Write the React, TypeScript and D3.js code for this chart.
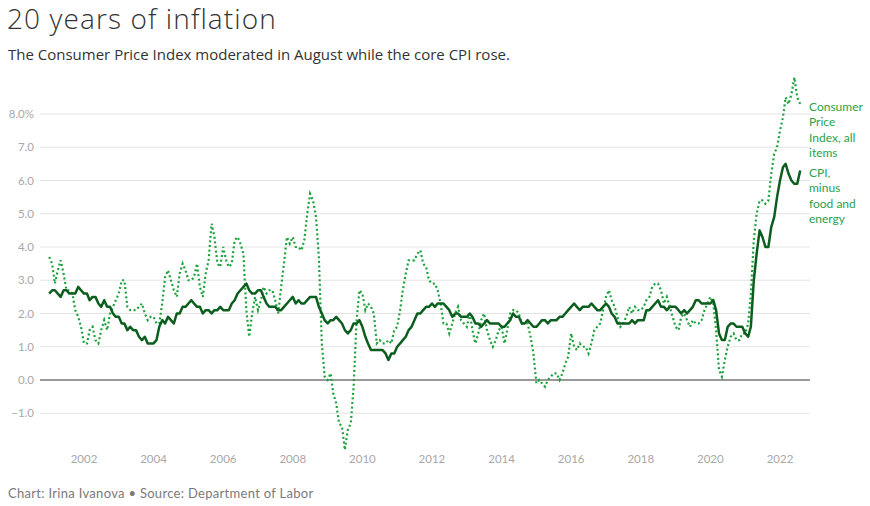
import React from "react";
import * as d3 from "d3";

const startYear = 2001;
const cpiAll: number[] = [
  3.7, 3.5, 2.9, 3.3, 3.6, 3.2, 2.7, 2.7, 2.6, 2.1, 1.9, 1.6,
  1.1, 1.1, 1.5, 1.6, 1.2, 1.1, 1.5, 1.8, 1.5, 2.0, 2.2, 2.4,
  2.6, 3.0, 3.0, 2.2, 2.1, 2.1, 2.1, 2.2, 2.3, 2.0, 1.8, 1.9,
  1.9, 1.7, 1.7, 2.3, 3.1, 3.3, 3.0, 2.7, 2.5, 3.2, 3.5, 3.3,
  3.0, 3.0, 3.1, 3.5, 2.8, 2.5, 3.2, 3.6, 4.7, 4.3, 3.5, 3.4,
  4.0, 3.6, 3.4, 3.5, 4.2, 4.3, 4.1, 3.8, 2.1, 1.3, 2.0, 2.5,
  2.1, 2.4, 2.8, 2.6, 2.7, 2.7, 2.4, 2.0, 2.8, 3.5, 4.3, 4.1,
  4.3, 4.0, 4.0, 3.9, 4.2, 5.0, 5.6, 5.4, 4.9, 3.7, 1.1, 0.1,
  0.0, 0.2, -0.4, -0.7, -1.3, -1.4, -2.1, -1.5, -1.3, -0.2, 1.8, 2.7,
  2.6, 2.1, 2.3, 2.2, 2.0, 1.1, 1.2, 1.1, 1.1, 1.2, 1.1, 1.5,
  1.6, 2.1, 2.7, 3.2, 3.6, 3.6, 3.6, 3.8, 3.9, 3.5, 3.4, 3.0,
  2.9, 2.9, 2.7, 2.3, 1.7, 1.7, 1.4, 1.7, 2.0, 2.2, 1.8, 1.7,
  1.6, 2.0, 1.5, 1.1, 1.4, 1.8, 2.0, 1.5, 1.2, 1.0, 1.2, 1.5,
  1.6, 1.1, 1.5, 2.0, 2.1, 2.1, 2.0, 1.7, 1.7, 1.7, 1.3, 0.8,
  -0.1, 0.0, -0.1, -0.2, 0.0, 0.1, 0.2, 0.2, 0.0, 0.2, 0.5, 0.7,
  1.4, 1.0, 0.9, 1.1, 1.0, 1.0, 0.8, 1.1, 1.5, 1.6, 1.7, 2.1,
  2.5, 2.7, 2.4, 2.2, 1.9, 1.6, 1.7, 1.9, 2.2, 2.0, 2.2, 2.1,
  2.1, 2.2, 2.4, 2.5, 2.8, 2.9, 2.9, 2.7, 2.3, 2.5, 2.2, 1.9,
  1.6, 1.5, 1.9, 2.0, 1.8, 1.6, 1.8, 1.7, 1.7, 1.8, 2.1, 2.3,
  2.5, 2.3, 1.5, 0.3, 0.1, 0.6, 1.0, 1.3, 1.4, 1.2, 1.2, 1.4,
  1.4, 1.7, 2.6, 4.2, 5.0, 5.4, 5.4, 5.3, 5.4, 6.2, 6.8, 7.0,
  7.5, 7.9, 8.5, 8.3, 8.6, 9.1, 8.5, 8.3,
];
const cpiCore: number[] = [
  2.6, 2.7, 2.7, 2.6, 2.5, 2.7, 2.7, 2.6, 2.6, 2.6, 2.8, 2.7,
  2.6, 2.6, 2.4, 2.5, 2.5, 2.3, 2.2, 2.4, 2.2, 2.2, 2.0, 1.9,
  1.9, 1.7, 1.7, 1.5, 1.6, 1.5, 1.5, 1.3, 1.2, 1.3, 1.1, 1.1,
  1.1, 1.2, 1.6, 1.8, 1.7, 1.9, 1.8, 1.7, 2.0, 2.0, 2.2, 2.2,
  2.3, 2.4, 2.3, 2.2, 2.2, 2.0, 2.1, 2.1, 2.0, 2.1, 2.1, 2.2,
  2.1, 2.1, 2.1, 2.3, 2.4, 2.6, 2.7, 2.8, 2.9, 2.7, 2.6, 2.6,
  2.7, 2.7, 2.5, 2.3, 2.2, 2.2, 2.2, 2.1, 2.1, 2.2, 2.3, 2.4,
  2.5, 2.3, 2.4, 2.3, 2.3, 2.4, 2.5, 2.5, 2.5, 2.2, 2.0, 1.8,
  1.7, 1.8, 1.8, 1.9, 1.8, 1.7, 1.5, 1.4, 1.5, 1.7, 1.7, 1.8,
  1.6, 1.3, 1.1, 0.9, 0.9, 0.9, 0.9, 0.9, 0.8, 0.6, 0.8, 0.8,
  1.0, 1.1, 1.2, 1.3, 1.5, 1.6, 1.8, 2.0, 2.0, 2.1, 2.2, 2.2,
  2.3, 2.2, 2.3, 2.3, 2.3, 2.2, 2.1, 1.9, 2.0, 2.0, 1.9, 1.9,
  1.9, 2.0, 1.9, 1.7, 1.7, 1.6, 1.7, 1.8, 1.7, 1.7, 1.7, 1.7,
  1.6, 1.6, 1.7, 1.8, 2.0, 1.9, 1.9, 1.7, 1.7, 1.8, 1.7, 1.6,
  1.6, 1.7, 1.8, 1.8, 1.7, 1.8, 1.8, 1.8, 1.9, 1.9, 2.0, 2.1,
  2.2, 2.3, 2.2, 2.1, 2.2, 2.2, 2.2, 2.3, 2.2, 2.1, 2.1, 2.2,
  2.3, 2.2, 2.0, 1.9, 1.7, 1.7, 1.7, 1.7, 1.7, 1.8, 1.7, 1.8,
  1.8, 1.8, 2.1, 2.1, 2.2, 2.3, 2.4, 2.2, 2.2, 2.1, 2.2, 2.2,
  2.2, 2.1, 2.0, 2.1, 2.0, 2.1, 2.2, 2.4, 2.4, 2.3, 2.3, 2.3,
  2.3, 2.4, 2.1, 1.4, 1.2, 1.2, 1.6, 1.7, 1.7, 1.6, 1.6, 1.6,
  1.4, 1.3, 1.6, 3.0, 3.8, 4.5, 4.3, 4.0, 4.0, 4.6, 4.9, 5.5,
  6.0, 6.4, 6.5, 6.2, 6.0, 5.9, 5.9, 6.3,
];
const yTicks: number[] = [-1, 0, 1, 2, 3, 4, 5, 6, 7, 8];
const xTickYears: number[] = [2002, 2004, 2006, 2008, 2010, 2012, 2014, 2016, 2018, 2020, 2022];
const allLabel: string[] = ["Consumer", "Price", "Index, all", "items"];
const coreLabel: string[] = ["CPI,", "minus", "food and", "energy"];

const FONT = "Lato, 'Open Sans', sans-serif";
const HEAD_FONT = "'Open Sans', Lato, sans-serif";

export default function App() {
  const x = d3.scaleTime().domain([new Date(2002, 0, 1), new Date(2022, 0, 1)]).range([84, 780]);
  const y = d3.scaleLinear().domain([0, 8]).range([380, 114]);
  const date = (i: number) => new Date(startYear, i, 1);
  const line = d3
    .line<number>()
    .x((_, i) => x(date(i)))
    .y((d) => y(d))
    .curve(d3.curveLinear);

  const fmt = (v: number) => (v < 0 ? "\u2212" + Math.abs(v).toFixed(1) : v.toFixed(1) + (v === 8 ? "%" : ""));

  return (
    <svg width={870} height={506} style={{ position: "absolute", left: 0, top: 0, background: "#fff" }} fontFamily={FONT}>
      <text x={7} y={29} fontSize={28} fontWeight={300} fill="#333" fontFamily={HEAD_FONT} letterSpacing={1.1}>20 years of inflation</text>
      <text x={8} y={60} fontSize={15} fill="#333" fontFamily={HEAD_FONT}>The Consumer Price Index moderated in August while the core CPI rose.</text>

      {yTicks.map((t) => (
        <g key={t}>
          <line x1={40} x2={810} y1={y(t)} y2={y(t)} stroke={t === 0 ? "#333" : "#e3e3e3"} strokeWidth={t === 0 ? 1.2 : 1} />
          <text x={34} y={y(t) + 4} textAnchor="end" fontSize={11.5} fill="#a8a8a8">{fmt(t)}</text>
        </g>
      ))}
      {xTickYears.map((yr) => (
        <text key={yr} x={x(new Date(yr, 0, 1))} y={463} textAnchor="middle" fontSize={11.5} fill="#a8a8a8">{yr}</text>
      ))}

      <path d={line(cpiAll) || ""} fill="none" stroke="#1ba23c" strokeWidth={2.2} strokeDasharray="2,2.6" />
      <path d={line(cpiCore) || ""} fill="none" stroke="#0b5e1e" strokeWidth={2.5} strokeLinejoin="round" />

      <text fontSize={12} fill="#2ba24a">
        {allLabel.map((s, i) => (
          <tspan key={s} x={809} y={111 + i * 15.3}>{s}</tspan>
        ))}
      </text>
      <text fontSize={12} fill="#2ba24a">
        {coreLabel.map((s, i) => (
          <tspan key={s} x={809} y={177 + i * 15.3}>{s}</tspan>
        ))}
      </text>

      <text x={8} y={498} fontSize={13} fill="#7a7a7a" letterSpacing={0.3}>{"Chart: Irina Ivanova \u2022 Source: Department of Labor"}</text>
    </svg>
  );
}
